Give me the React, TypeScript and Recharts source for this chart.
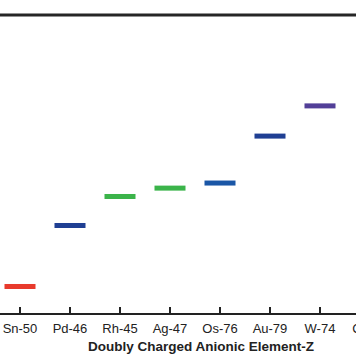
import React from "react";
import {
  ScatterChart,
  Scatter,
  XAxis,
  YAxis,
  ReferenceLine,
  Cell,
} from "recharts";

// Categories (doubly charged anionic element) and their values (arbitrary units)
const categories = ["Sn-50", "Pd-46", "Rh-45", "Ag-47", "Os-76", "Au-79", "W-74", "Co-27"];
const values = [9.2, 29.6, 39.3, 42.1, 43.8, 59.5, 69.6];
const tickIndices = [0, 1, 2, 3, 4, 5, 6, 7];

const barColors = ["#e83a2c", "#1f3f93", "#3bb44a", "#3bb44a", "#1a56a6", "#1f3f93", "#523f98"];

const data = values.map((v, i) => ({ i, v, name: categories[i] }));

const FONT = "'Liberation Sans', Arial, Helvetica, sans-serif";

const HBar = (props: any) => {
  const { cx, cy, fill } = props;
  if (cx == null || cy == null) return null;
  const w = 31;
  const h = 5;
  return <rect x={cx - w / 2} y={cy - h / 2} width={w} height={h} fill={fill} />;
};

const CustomTick = (props: any) => {
  const { x, y, payload } = props;
  return (
    <g>
      <line x1={x} x2={x} y1={y} y2={y - 7} stroke="#222" strokeWidth={2} />
      <text
        x={x}
        y={y + 18.7}
        textAnchor="middle"
        fontFamily={FONT}
        fontSize={13}
        fill="#222"
      >
        {categories[payload.value]}
      </text>
    </g>
  );
};

const AxisTitle = (props: any) => {
  const vb = props.viewBox || {};
  const cx = 201;
  return (
    <text
      x={cx}
      y={(vb.y ?? 314) + 37}
      textAnchor="middle"
      fontFamily={FONT}
      fontSize={13.5}
      fontWeight="bold"
      fill="#222"
    >
      Doubly Charged Anionic Element-Z
    </text>
  );
};

export default function App() {
  return (
    <div
      style={{
        position: "absolute",
        left: 0,
        top: 0,
        width: 356,
        height: 364,
        overflow: "hidden",
        background: "#fff",
      }}
    >
      <ScatterChart
        width={420}
        height={364}
        margin={{ top: 15, right: 0, bottom: 0, left: 0 }}
      >
        <XAxis
          type="number"
          dataKey="i"
          domain={[-0.4, 8.0]}
          ticks={tickIndices}
          interval={0}
          allowDataOverflow
          height={50}
          tickSize={0}
          tickMargin={0}
          tickLine={false}
          tick={<CustomTick />}
          axisLine={{ stroke: "#222", strokeWidth: 2 }}
          label={{ value: "Doubly Charged Anionic Element-Z", content: <AxisTitle /> }}
        />
        <YAxis type="number" dataKey="v" domain={[0, 100]} hide />
        <ReferenceLine y={100} stroke="#262626" strokeWidth={3} ifOverflow="extendDomain" />
        <Scatter data={data} shape={<HBar />} isAnimationActive={false}>
          {data.map((d, idx) => (
            <Cell key={idx} fill={barColors[idx]} />
          ))}
        </Scatter>
      </ScatterChart>
    </div>
  );
}
